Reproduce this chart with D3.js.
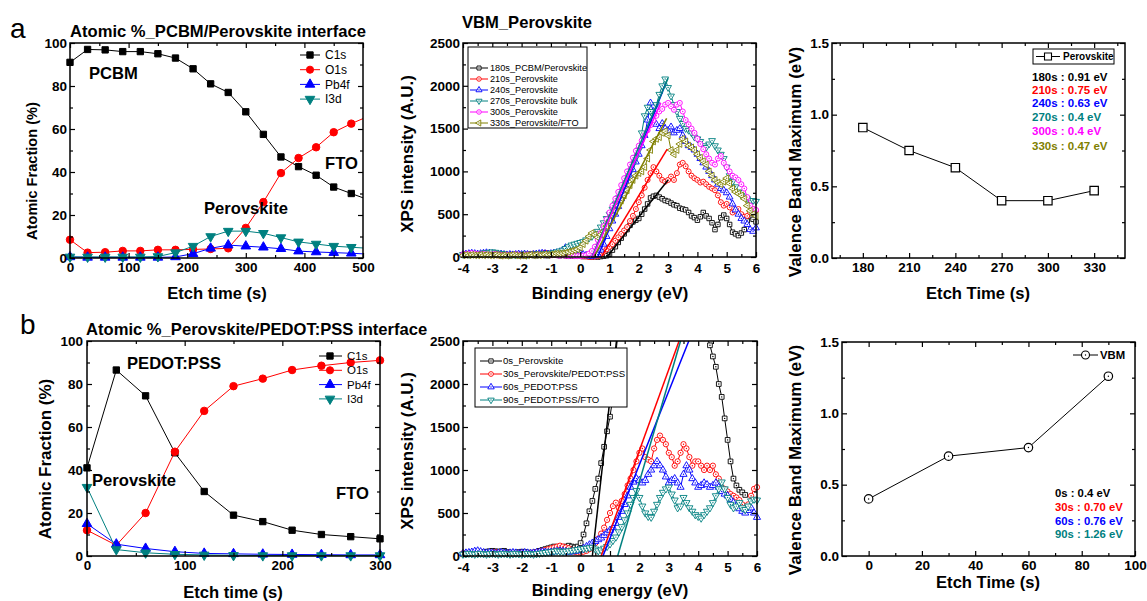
<!DOCTYPE html>
<html>
<head>
<style>
  body { margin: 0; background: #fff; }
</style>
</head>
<body>
<svg width="1147" height="601"></svg>
<script src="https://d3js.org/d3.v7.min.js"></script>
<script>
const FONT = "'Liberation Sans', Arial, sans-serif";

// ---- panel a, left: atomic fraction vs etch time ----
const aTime = [0, 30, 60, 90, 120, 150, 180, 210, 240, 270, 300, 330, 360, 390, 420, 450, 480, 510];
const aC1s  = [91, 97, 96.8, 96, 96, 95, 93, 88, 81, 77, 68, 57.5, 47, 42.5, 38.5, 33, 30, 27];
const aO1s  = [8.5, 2.5, 2.7, 3.3, 3.3, 3.8, 3.8, 4, 4.2, 4.5, 14, 26, 39.5, 46.5, 51.5, 58.5, 62.5, 66];
const aPb4f = [0.5, 0.3, 0.3, 0.3, 0.3, 0.3, 0.5, 2, 4.5, 6, 5.5, 5, 4.3, 3.2, 2.8, 2.5, 2.2, 1.8];
const aI3d  = [0.5, 0.5, 0.5, 0.5, 0.5, 0.7, 2.5, 5.5, 10, 12.5, 12.5, 11.5, 9.5, 7.5, 6.5, 5.5, 5, 4.5];

// ---- panel b, left ----
const bTime = [0, 30, 60, 90, 120, 150, 180, 210, 240, 270, 300];
const bC1s  = [41, 86.5, 74.5, 48, 30, 19, 16, 12, 10, 9, 8];
const bO1s  = [12, 5, 20, 48.5, 67.5, 79, 82.5, 86.5, 88.5, 90, 91];
const bPb4f = [15, 5.5, 3.5, 2, 1.2, 1, 0.8, 0.7, 0.6, 0.5, 0.5];
const bI3d  = [32, 3, 1.5, 0.8, 0.5, 0.3, 0.2, 0.2, 0.2, 0.2, 0.2];

// ---- XPS spectra, binding energy grid (eV) ----
const energy = [
  -4.0,-3.9,-3.8,-3.7,-3.6,-3.5,-3.4,-3.3,-3.2,-3.1,
  -3.0,-2.9,-2.8,-2.7,-2.6,-2.5,-2.4,-2.3,-2.2,-2.1,
  -2.0,-1.9,-1.8,-1.7,-1.6,-1.5,-1.4,-1.3,-1.2,-1.1,
  -1.0,-0.9,-0.8,-0.7,-0.6,-0.5,-0.4,-0.3,-0.2,-0.1,
   0.0, 0.1, 0.2, 0.3, 0.4, 0.5, 0.6, 0.7, 0.8, 0.9,
   1.0, 1.1, 1.2, 1.3, 1.4, 1.5, 1.6, 1.7, 1.8, 1.9,
   2.0, 2.1, 2.2, 2.3, 2.4, 2.5, 2.6, 2.7, 2.8, 2.9,
   3.0, 3.1, 3.2, 3.3, 3.4, 3.5, 3.6, 3.7, 3.8, 3.9,
   4.0, 4.1, 4.2, 4.3, 4.4, 4.5, 4.6, 4.7, 4.8, 4.9,
   5.0, 5.1, 5.2, 5.3, 5.4, 5.5, 5.6, 5.7, 5.8, 5.9,
   6.0];

// VBM_Perovskite spectra
const s180 = [
  20,25,30,25,20,25,30,35,30,25, 25,20,20,15,20,20,15,20,25,20,
  20,15,20,25,20,15,20,25,20,15, 20,25,20,15,20,15,10,15,10,10,
  10,5,10,5,0,5,0,5,10,15, 30,80,120,170,220,270,320,370,410,430,
  450,500,560,620,690,710,720,700,680,660, 650,630,610,600,570,560,550,520,480,460,
  430,470,520,480,450,400,320,380,460,490, 450,380,290,270,250,280,320,420,480,440,
  410];
const s210 = [
  30,35,40,35,30,35,30,25,30,35, 30,25,20,25,20,25,30,25,20,25,
  30,25,30,35,40,35,40,45,50,45, 40,35,30,25,30,20,25,30,20,15,
  10,10,5,0,0,5,10,30,60,90, 120,150,190,230,270,310,350,420,480,560,
  640,720,810,900,980,1050,1000,950,900,880, 900,940,900,980,1080,1100,1060,1000,950,920,
  900,870,880,850,820,800,780,720,640,600, 620,580,520,540,560,500,470,480,520,560,
  540];
const s240 = [
  30,35,40,45,40,35,40,45,50,45, 40,35,30,35,30,25,30,25,30,35,
  30,35,30,25,30,35,40,45,40,35, 40,45,50,60,80,110,100,80,60,50,
  40,30,20,10,10,15,30,80,150,240, 330,420,500,590,680,760,850,930,1020,1110,
  1200,1300,1420,1600,1800,1700,1550,1500,1560,1500, 1480,1520,1450,1480,1500,1420,1350,1300,1280,1250,
  1200,1150,1100,1050,1000,950,900,850,800,780, 750,700,620,550,500,450,420,380,320,300,
  340];
const s270 = [
  30,35,30,35,40,35,40,45,50,55, 60,55,45,40,35,30,25,30,25,30,
  30,35,30,35,30,35,40,35,30,40, 45,50,60,70,80,100,120,140,150,160,
  170,180,200,220,240,270,300,350,400,450, 500,560,620,690,760,840,920,1000,1080,1160,
  1250,1450,1650,1750,1700,1650,1780,1900,2000,2080, 1980,1880,1780,1700,1620,1560,1500,1480,1450,1400,
  1380,1350,1300,1280,1320,1360,1300,1250,1200,1150, 1050,950,880,820,760,720,700,680,660,660,
  650];
const s300 = [
  30,35,40,45,40,35,30,35,30,25, 30,35,30,25,20,25,20,25,30,25,
  20,25,30,25,20,25,30,25,20,25, 20,25,20,15,20,15,10,15,10,10,
  10,15,20,40,70,120,200,280,360,440, 520,600,680,760,840,920,1000,1080,1160,1240,
  1300,1360,1420,1480,1540,1600,1650,1700,1730,1780, 1800,1760,1720,1780,1800,1700,1600,1550,1500,1450,
  1380,1320,1260,1200,1150,1100,1080,1150,1180,1100, 1050,1000,950,930,900,850,800,700,600,560,
  550];
const s330 = [
  20,25,20,25,20,20,25,20,25,20, 20,25,20,15,20,15,20,25,20,15,
  20,15,20,25,20,25,20,25,30,25, 30,35,40,40,45,50,60,70,80,90,
  110,150,190,240,280,260,230,260,300,360, 420,480,540,600,660,720,780,840,900,950,
  980,1000,1050,1150,1250,1350,1380,1400,1450,1470, 1420,1250,1200,1250,1320,1380,1350,1300,1280,1250,
  1200,1160,1120,1080,1000,950,900,870,850,880, 920,860,800,760,740,720,680,600,540,500,
  480];
const aSpecNames = ["180s_PCBM/Perovskite", "210s_Perovskite", "240s_Perovskite",
                    "270s_Perovskite bulk", "300s_Perovskite", "330s_Perovskite/FTO"];
// linear fits: x-intercept and end point (eV, intensity)
const aFitStart = [0.91, 0.72, 0.60, 0.40, 0.42, 0.47];
const aFitEndE  = [3.00, 2.97, 2.92, 3.00, 2.75, 2.95];
const aFitEndI  = [900, 1260, 2030, 2090, 1800, 1620];

// Perovskite/PEDOT:PSS spectra (0s spectrum ends at 5.6 eV)
const b0 = [
  20,25,30,35,30,35,40,45,50,55, 60,55,50,55,60,45,40,35,40,45,
  50,45,40,35,40,45,60,70,80,90, 100,110,100,90,100,110,120,110,100,110,
  150,250,380,520,640,780,900,1080,1270,1450, 1620,1850,2350,2700,2900,3100,3300,3450,3550,3650,
  3700,3750,3800,3850,3850,3900,3900,3850,3800,3800, 3750,3700,3650,3600,3500,3400,3300,3200,3050,2900,
  2800,2700,2620,2550,2450,2320,2200,2000,1850,1600, 1350,1100,900,820,770,740,710];
const b30 = [
  30,35,30,25,30,35,40,35,30,35, 40,45,40,35,30,35,30,25,30,35,
  40,35,30,35,40,45,50,60,70,80, 90,100,110,120,110,100,90,70,50,40,
  40,50,60,80,110,150,200,260,330,420, 500,580,620,560,640,720,820,900,1000,1100,
  1200,1250,1150,1120,1100,1250,1350,1400,1350,1300, 1200,1150,1050,1100,1200,1300,1250,1150,1050,1100,
  1100,1050,1000,1050,1000,1050,950,900,800,780, 750,720,700,680,650,600,560,600,700,780,
  800];
const b60 = [
  30,35,40,45,55,60,50,40,35,40, 35,30,35,40,35,30,35,40,35,30,
  35,40,35,30,35,40,45,50,45,40, 45,50,55,60,55,50,45,50,55,60,
  70,90,110,130,150,170,190,210,240,270, 300,330,380,450,520,600,700,800,860,900,
  880,850,880,950,1000,1050,1100,1050,1000,920, 850,880,900,850,800,950,1050,1000,900,850,
  800,820,850,830,800,820,850,800,750,720, 700,660,620,580,550,520,500,530,560,500,
  450];
const b90 = [
  20,25,30,25,20,25,30,25,20,25, 30,25,20,25,30,25,20,25,30,25,
  20,25,30,25,20,25,30,35,40,45, 50,55,60,55,50,55,60,65,70,75,
  80,85,90,95,100,80,60,70,90,110, 140,180,220,280,340,420,500,600,680,760,
  680,580,500,460,450,520,600,680,740,780, 800,720,650,560,580,680,620,560,520,480,
  460,440,480,520,560,620,700,780,860,780, 680,600,560,580,620,560,540,580,640,660,
  650];
const bSpecNames = ["0s_Perovskite", "30s_Perovskite/PEDOT:PSS", "60s_PEDOT:PSS", "90s_PEDOT:PSS/FTO"];
const bFitStart = [0.40, 0.70, 0.76, 1.26];
const bFitEndE  = [1.22, 3.35, 3.68, 3.40];
const bFitEndI  = [2500, 2500, 2500, 2500];

// ---- valence band maximum vs etch time ----
const vTimeA = [180, 210, 240, 270, 300, 330];
const vbmA   = [0.91, 0.75, 0.63, 0.40, 0.40, 0.47];
const vLabelsA = ["180s : 0.91 eV", "210s : 0.75 eV", "240s : 0.63 eV", "270s : 0.4 eV", "300s : 0.4 eV", "330s : 0.47 eV"];
const vTimeB = [0, 30, 60, 90];
const vbmB   = [0.40, 0.70, 0.76, 1.26];
const vLabelsB = ["0s : 0.4 eV", "30s : 0.70 eV", "60s : 0.76 eV", "90s : 1.26 eV"];

const colA = ["#000000", "#ff0000", "#0000ff", "#008080", "#ff00ff", "#808000"];
const colElem = ["#000000", "#ff0000", "#0000ff", "#008080"];

const svg = d3.select("svg");
let clipN = 0;

function makePanel(p) {
  const x = d3.scaleLinear().domain(p.xDomain).range([p.left, p.right]);
  const y = d3.scaleLinear().domain(p.yDomain).range([p.bottom, p.top]);
  const id = "clip" + (clipN++);
  svg.append("clipPath").attr("id", id).append("rect")
    .attr("x", p.left).attr("y", p.top)
    .attr("width", p.right - p.left).attr("height", p.bottom - p.top);
  const g = svg.append("g");
  const axes = svg.append("g");
  const fmt = v => String(v);
  function ax(gen, tx, ty, vals, size, pad, f) {
    const a = axes.append("g").attr("transform", `translate(${tx},${ty})`)
      .call(gen.tickValues(vals).tickSizeInner(-size).tickSizeOuter(0)
        .tickPadding(pad).tickFormat(f || (() => "")));
    a.select(".domain").remove();
    a.selectAll("line").attr("stroke", "#000").attr("stroke-width", 1.2);
    a.selectAll("text").attr("font-family", FONT).attr("font-weight", "bold")
      .attr("font-size", 13.5).attr("fill", "#000");
  }
  const xp = p.xPad || 4, yp = p.yPad || 3;
  ax(d3.axisBottom(x), 0, p.bottom, p.xMajor, 5, xp, p.xFmt || fmt);
  ax(d3.axisBottom(x), 0, p.bottom, p.xMinor, 3, xp);
  ax(d3.axisTop(x), 0, p.top, p.xMajor, 5, xp);
  ax(d3.axisTop(x), 0, p.top, p.xMinor, 3, xp);
  ax(d3.axisLeft(y), p.left, 0, p.yMajor, 5, yp, p.yFmt || fmt);
  ax(d3.axisLeft(y), p.left, 0, p.yMinor, 3, yp);
  ax(d3.axisRight(y), p.right, 0, p.yMajor, 5, yp);
  ax(d3.axisRight(y), p.right, 0, p.yMinor, 3, yp);
  axes.append("rect").attr("x", p.left).attr("y", p.top)
    .attr("width", p.right - p.left).attr("height", p.bottom - p.top)
    .attr("fill", "none").attr("stroke", "#000").attr("stroke-width", 1.5);
  return { x, y, g, clip: `url(#${id})`, p };
}

function markerPath(kind, size) {
  const t = { square: d3.symbolSquare, circle: d3.symbolCircle, up: d3.symbolTriangle,
              down: d3.symbolTriangle, left: d3.symbolTriangle, diamond: d3.symbolDiamond }[kind];
  return d3.symbol(t, size)();
}
function markerRot(kind) { return kind === "down" ? 180 : kind === "left" ? -90 : 0; }

function drawMarker(sel, cx, cy, o) {
  sel.append("path").attr("d", markerPath(o.kind, o.size))
    .attr("transform", `translate(${cx},${cy}) rotate(${markerRot(o.kind)})`)
    .attr("fill", o.open ? "#fff" : o.color).attr("stroke", o.color)
    .attr("stroke-width", o.sw || 1);
  if (o.dot) sel.append("circle").attr("cx", cx).attr("cy", cy).attr("r", 0.7).attr("fill", o.color);
}

function series(P, xs, ys, o) {
  const pts = ys.map((v, i) => [xs[i], v]).filter(d => d[1] != null);
  P.g.append("path").datum(pts).attr("clip-path", P.clip)
    .attr("fill", "none").attr("stroke", o.color).attr("stroke-width", o.lw || 1)
    .attr("d", d3.line().x(d => P.x(d[0])).y(d => P.y(d[1])));
  const [x0, x1] = P.x.domain(), [y0, y1] = P.y.domain();
  const mg = P.g.append("g");
  pts.filter(d => d[0] >= x0 && d[0] <= x1 && d[1] >= y0 && d[1] <= y1)
    .forEach(d => drawMarker(mg, P.x(d[0]), P.y(d[1]), o));
}

function text(x, y, s, o = {}) {
  const t = svg.append("text").attr("x", x).attr("y", y).attr("dy", "0.35em")
    .attr("font-family", FONT).attr("font-size", o.size || 16.6)
    .attr("font-weight", o.weight || "bold").attr("fill", o.color || "#000")
    .attr("text-anchor", o.anchor || "start").text(s);
  if (o.rotate) t.attr("transform", `rotate(${o.rotate},${x},${y})`);
  return t;
}

// ================= a: left =================
const A1 = makePanel({ left: 70, right: 363, top: 43, bottom: 258, xPad: 4, yPad: 3,
  xDomain: [0, 500], xMajor: [0, 100, 200, 300, 400, 500], xMinor: [50, 150, 250, 350, 450],
  yDomain: [0, 100], yMajor: [0, 20, 40, 60, 80, 100], yMinor: [10, 30, 50, 70, 90] });
const elemKinds = ["square", "circle", "up", "down"];
const elemNames = ["C1s", "O1s", "Pb4f", "I3d"];
[aC1s, aO1s, aPb4f, aI3d].forEach((ys, i) =>
  series(A1, aTime, ys, { color: colElem[i], kind: elemKinds[i], size: i === 1 ? 44 : 40 }));
elemNames.forEach((n, i) => {
  const yy = 55 + i * 14.7;
  svg.append("line").attr("x1", 300).attr("x2", 320).attr("y1", yy).attr("y2", yy)
    .attr("stroke", colElem[i]).attr("stroke-width", 1);
  drawMarker(svg, 310, yy, { kind: elemKinds[i], size: 40, color: colElem[i] });
  text(325, yy, n, { size: 12, weight: "normal" });
});
text(70, 31, "Atomic %_PCBM/Perovskite interface");
text(10, 28, "a", { size: 28, weight: "normal" });
text(89, 73, "PCBM");
text(325, 163, "FTO");
text(204, 208, "Perovskite");
text(217, 293, "Etch time (s)", { anchor: "middle" });
text(32, 171, "Atomic Fraction (%)", { anchor: "middle", rotate: -90, size: 14.6 });

// ================= a: middle =================
const A2 = makePanel({ left: 463, right: 756, top: 43, bottom: 257, xPad: 6, yPad: 3,
  xDomain: [-4, 6], xMajor: d3.range(-4, 7), xMinor: d3.range(-3.5, 6, 1),
  yDomain: [0, 2500], yMajor: [0, 500, 1000, 1500, 2000, 2500], yMinor: [250, 750, 1250, 1750, 2250] });
const specKindsA = ["square", "circle", "up", "down", "circle", "left"];
[s180, s210, s240, s270, s300, s330].forEach((ys, i) =>
  series(A2, energy, ys, { color: colA[i], kind: specKindsA[i], size: 20, open: true, dot: true, sw: 0.9 }));
aFitStart.forEach((e0, i) => {
  A2.g.append("line").attr("x1", A2.x(e0)).attr("y1", A2.y(0))
    .attr("x2", A2.x(aFitEndE[i])).attr("y2", A2.y(aFitEndI[i]))
    .attr("stroke", colA[i]).attr("stroke-width", 1.5);
});
svg.append("rect").attr("x", 468).attr("y", 47).attr("width", 119).attr("height", 81)
  .attr("fill", "#fff").attr("stroke", "#000").attr("stroke-width", 1);
aSpecNames.forEach((n, i) => {
  const yy = 68 + i * 11;
  svg.append("line").attr("x1", 470).attr("x2", 488).attr("y1", yy).attr("y2", yy)
    .attr("stroke", colA[i]).attr("stroke-width", 1);
  drawMarker(svg, 479, yy, { kind: specKindsA[i], size: 16, color: colA[i], open: true, dot: true, sw: 0.9 });
  text(490, yy, n, { size: 9.2, weight: "normal" });
});
text(462, 22, "VBM_Perovskite");
text(610, 293, "Binding energy (eV)", { anchor: "middle" });
text(407, 154, "XPS intensity (A.U.)", { anchor: "middle", rotate: -90, size: 16.9 });

// ================= a: right =================
const A3 = makePanel({ left: 832, right: 1125, top: 43, bottom: 258, xPad: 4, yPad: 3,
  xDomain: [160, 350], xMajor: [180, 210, 240, 270, 300, 330], xMinor: [165, 195, 225, 255, 285, 315, 345],
  yDomain: [0, 1.5], yMajor: [0, 0.5, 1, 1.5], yMinor: [0.25, 0.75, 1.25], yFmt: d3.format(".1f") });
series(A3, vTimeA, vbmA, { color: "#000", kind: "square", size: 70, open: true, sw: 1.2 });
svg.append("rect").attr("x", 1033).attr("y", 49).attr("width", 81).attr("height", 15)
  .attr("fill", "#fff").attr("stroke", "#000").attr("stroke-width", 1);
svg.append("line").attr("x1", 1036).attr("x2", 1060).attr("y1", 56.5).attr("y2", 56.5)
  .attr("stroke", "#000");
drawMarker(svg, 1048, 56.5, { kind: "square", size: 49, color: "#000", open: true, sw: 1.1 });
text(1063, 56.5, "Perovskite", { size: 10 });
const rowA = [77, 90, 103, 117, 131, 145.5];
vLabelsA.forEach((s, i) => text(1032, rowA[i], s, { size: 11.5, color: colA[i] }));
text(978, 293, "Etch Time (s)", { anchor: "middle" });
text(795, 162, "Valence Band Maximum (eV)", { anchor: "middle", rotate: -90, size: 17 });

// ================= b: left =================
const B1 = makePanel({ left: 87, right: 380, top: 341, bottom: 556, xPad: 4, yPad: 4,
  xDomain: [0, 300], xMajor: [0, 100, 200, 300], xMinor: [50, 150, 250],
  yDomain: [0, 100], yMajor: [0, 20, 40, 60, 80, 100], yMinor: [10, 30, 50, 70, 90] });
[bC1s, bO1s, bPb4f, bI3d].forEach((ys, i) =>
  series(B1, bTime, ys, { color: colElem[i], kind: elemKinds[i], size: i === 1 ? 44 : 40 }));
elemNames.forEach((n, i) => {
  const yy = 356 + i * 14.3;
  svg.append("line").attr("x1", 319).attr("x2", 342).attr("y1", yy).attr("y2", yy)
    .attr("stroke", colElem[i]).attr("stroke-width", 1);
  drawMarker(svg, 330, yy, { kind: elemKinds[i], size: 40, color: colElem[i] });
  text(347, yy, n, { size: 11.5, weight: "normal" });
});
text(86, 329, "Atomic %_Perovskite/PEDOT:PSS interface");
text(20, 324, "b", { size: 28, weight: "normal" });
text(127, 363, "PEDOT:PSS");
text(92, 480, "Perovskite");
text(336, 493, "FTO");
text(233, 592, "Etch time (s)", { anchor: "middle" });
text(45, 459, "Atomic Fraction (%)", { anchor: "middle", rotate: -90, size: 17 });

// ================= b: middle =================
const B2 = makePanel({ left: 463, right: 757, top: 341, bottom: 556, xPad: 6, yPad: 3,
  xDomain: [-4, 6], xMajor: d3.range(-4, 7), xMinor: d3.range(-3.5, 6, 1),
  yDomain: [0, 2500], yMajor: [0, 500, 1000, 1500, 2000, 2500], yMinor: [250, 750, 1250, 1750, 2250] });
const specKindsB = ["square", "circle", "up", "down"];
[b0, b30, b60, b90].forEach((ys, i) =>
  series(B2, energy, ys, { color: colElem[i], kind: specKindsB[i], size: 22, open: true, dot: true, sw: 0.9 }));
bFitStart.forEach((e0, i) => {
  B2.g.append("line").attr("x1", B2.x(e0)).attr("y1", B2.y(0))
    .attr("x2", B2.x(bFitEndE[i])).attr("y2", B2.y(bFitEndI[i]))
    .attr("stroke", colElem[i]).attr("stroke-width", 1.5);
});
svg.append("rect").attr("x", 475).attr("y", 348).attr("width", 152).attr("height", 59)
  .attr("fill", "#fff").attr("stroke", "#000").attr("stroke-width", 1);
bSpecNames.forEach((n, i) => {
  const yy = 361 + i * 13;
  svg.append("line").attr("x1", 480).attr("x2", 502).attr("y1", yy).attr("y2", yy)
    .attr("stroke", colElem[i]).attr("stroke-width", 1);
  drawMarker(svg, 491, yy, { kind: specKindsB[i], size: 18, color: colElem[i], open: true, dot: true, sw: 0.9 });
  text(503, yy, n, { size: 9.6, weight: "normal" });
});
text(610, 590, "Binding energy (eV)", { anchor: "middle" });
text(407, 451, "XPS intensity (A.U.)", { anchor: "middle", rotate: -90, size: 16.9 });

// ================= b: right =================
const B3 = makePanel({ left: 842, right: 1135, top: 342, bottom: 556, xPad: 4, yPad: 3,
  xDomain: [-10, 100], xMajor: [0, 20, 40, 60, 80, 100], xMinor: [10, 30, 50, 70, 90],
  yDomain: [0, 1.5], yMajor: [0, 0.5, 1, 1.5], yMinor: [0.25, 0.75, 1.25], yFmt: d3.format(".1f") });
series(B3, vTimeB, vbmB, { color: "#000", kind: "circle", size: 56, open: true, dot: true, sw: 1.2 });
svg.append("line").attr("x1", 1073).attr("x2", 1098).attr("y1", 355).attr("y2", 355).attr("stroke", "#000");
drawMarker(svg, 1085.5, 355, { kind: "circle", size: 50, color: "#000", open: true, dot: true, sw: 1.1 });
text(1100, 355, "VBM", { size: 11.3 });
const rowB = [493, 507, 521, 534];
vLabelsB.forEach((s, i) => text(1055, rowB[i], s, { size: 11.3, color: colElem[i] }));
text(988, 582, "Etch Time (s)", { anchor: "middle" });
text(795, 460, "Valence Band Maximum (eV)", { anchor: "middle", rotate: -90, size: 17 });
</script>
</body>
</html>
